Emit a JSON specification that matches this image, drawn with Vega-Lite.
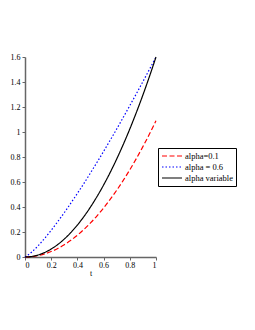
{
  "$schema": "https://vega.github.io/schema/vega-lite/v6.json",
  "autosize": "none",
  "width": 131,
  "height": 200,
  "padding": {"left": 25, "top": 57, "right": 99, "bottom": 73},
  "background": "white",
  "config": {
    "view": {"stroke": null},
    "font": "Liberation Serif",
    "axis": {
      "grid": false,
      "domainColor": "#666",
      "domainWidth": 1.5,
      "tickColor": "#666",
      "tickSize": 3,
      "labelFont": "Liberation Serif",
      "labelFontSize": 8,
      "labelColor": "black",
      "titleFont": "Liberation Serif",
      "titleFontSize": 8,
      "titleFontWeight": "normal",
      "titleColor": "black"
    }
  },
  "data": {
    "values": [
      {"t": 0, "y": 0, "s": "alpha=0.1"},
      {"t": 0.05, "y": 0.0027, "s": "alpha=0.1"},
      {"t": 0.1, "y": 0.0109, "s": "alpha=0.1"},
      {"t": 0.15, "y": 0.0245, "s": "alpha=0.1"},
      {"t": 0.2, "y": 0.0436, "s": "alpha=0.1"},
      {"t": 0.25, "y": 0.0681, "s": "alpha=0.1"},
      {"t": 0.3, "y": 0.0981, "s": "alpha=0.1"},
      {"t": 0.35, "y": 0.1335, "s": "alpha=0.1"},
      {"t": 0.4, "y": 0.1744, "s": "alpha=0.1"},
      {"t": 0.45, "y": 0.2207, "s": "alpha=0.1"},
      {"t": 0.5, "y": 0.2725, "s": "alpha=0.1"},
      {"t": 0.55, "y": 0.3297, "s": "alpha=0.1"},
      {"t": 0.6, "y": 0.3924, "s": "alpha=0.1"},
      {"t": 0.65, "y": 0.4605, "s": "alpha=0.1"},
      {"t": 0.7, "y": 0.5341, "s": "alpha=0.1"},
      {"t": 0.75, "y": 0.6131, "s": "alpha=0.1"},
      {"t": 0.8, "y": 0.6976, "s": "alpha=0.1"},
      {"t": 0.85, "y": 0.7875, "s": "alpha=0.1"},
      {"t": 0.9, "y": 0.8829, "s": "alpha=0.1"},
      {"t": 0.95, "y": 0.9837, "s": "alpha=0.1"},
      {"t": 1, "y": 1.09, "s": "alpha=0.1"},
      {"t": 0, "y": 0, "s": "alpha = 0.6"},
      {"t": 0.05, "y": 0.038, "s": "alpha = 0.6"},
      {"t": 0.1, "y": 0.09, "s": "alpha = 0.6"},
      {"t": 0.15, "y": 0.149, "s": "alpha = 0.6"},
      {"t": 0.2, "y": 0.214, "s": "alpha = 0.6"},
      {"t": 0.25, "y": 0.283, "s": "alpha = 0.6"},
      {"t": 0.3, "y": 0.355, "s": "alpha = 0.6"},
      {"t": 0.35, "y": 0.431, "s": "alpha = 0.6"},
      {"t": 0.4, "y": 0.509, "s": "alpha = 0.6"},
      {"t": 0.45, "y": 0.589, "s": "alpha = 0.6"},
      {"t": 0.5, "y": 0.673, "s": "alpha = 0.6"},
      {"t": 0.55, "y": 0.758, "s": "alpha = 0.6"},
      {"t": 0.6, "y": 0.845, "s": "alpha = 0.6"},
      {"t": 0.65, "y": 0.934, "s": "alpha = 0.6"},
      {"t": 0.7, "y": 1.024, "s": "alpha = 0.6"},
      {"t": 0.75, "y": 1.117, "s": "alpha = 0.6"},
      {"t": 0.8, "y": 1.211, "s": "alpha = 0.6"},
      {"t": 0.85, "y": 1.306, "s": "alpha = 0.6"},
      {"t": 0.9, "y": 1.403, "s": "alpha = 0.6"},
      {"t": 0.95, "y": 1.501, "s": "alpha = 0.6"},
      {"t": 1, "y": 1.6, "s": "alpha = 0.6"},
      {"t": 0, "y": 0, "s": "alpha variable"},
      {"t": 0.05, "y": 0.004, "s": "alpha variable"},
      {"t": 0.1, "y": 0.016, "s": "alpha variable"},
      {"t": 0.15, "y": 0.036, "s": "alpha variable"},
      {"t": 0.2, "y": 0.064, "s": "alpha variable"},
      {"t": 0.25, "y": 0.1, "s": "alpha variable"},
      {"t": 0.3, "y": 0.144, "s": "alpha variable"},
      {"t": 0.35, "y": 0.196, "s": "alpha variable"},
      {"t": 0.4, "y": 0.256, "s": "alpha variable"},
      {"t": 0.45, "y": 0.324, "s": "alpha variable"},
      {"t": 0.5, "y": 0.4, "s": "alpha variable"},
      {"t": 0.55, "y": 0.484, "s": "alpha variable"},
      {"t": 0.6, "y": 0.576, "s": "alpha variable"},
      {"t": 0.65, "y": 0.676, "s": "alpha variable"},
      {"t": 0.7, "y": 0.784, "s": "alpha variable"},
      {"t": 0.75, "y": 0.9, "s": "alpha variable"},
      {"t": 0.8, "y": 1.024, "s": "alpha variable"},
      {"t": 0.85, "y": 1.156, "s": "alpha variable"},
      {"t": 0.9, "y": 1.296, "s": "alpha variable"},
      {"t": 0.95, "y": 1.444, "s": "alpha variable"},
      {"t": 1, "y": 1.6, "s": "alpha variable"}
    ]
  },
  "mark": {"type": "line", "strokeWidth": 1.2, "interpolate": "monotone"},
  "encoding": {
    "x": {
      "field": "t", "type": "quantitative",
      "scale": {"domain": [0, 1], "nice": false},
      "axis": {"title": "t", "values": [0, 0.2, 0.4, 0.6, 0.8, 1], "format": "~g", "titlePadding": 0, "labelPadding": 1}
    },
    "y": {
      "field": "y", "type": "quantitative",
      "scale": {"domain": [0, 1.6], "nice": false},
      "axis": {"title": null, "values": [0, 0.2, 0.4, 0.6, 0.8, 1, 1.2, 1.4, 1.6], "format": "~g", "labelPadding": 2}
    },
    "color": {
      "field": "s", "type": "nominal",
      "sort": ["alpha=0.1", "alpha = 0.6", "alpha variable"],
      "scale": {"domain": ["alpha=0.1", "alpha = 0.6", "alpha variable"], "range": ["#ff0000", "#0000ff", "#000000"]},
      "legend": {
        "title": null,
        "orient": "none",
        "legendX": 133,
        "legendY": 91,
        "strokeColor": "black",
        "padding": 3,
        "symbolType": "M-1,0H4",
        "symbolSize": 64,
        "symbolStrokeWidth": 1.2,
        "labelFont": "Liberation Serif",
        "labelFontSize": 8.5,
        "labelColor": "black",
        "rowPadding": 1,
        "labelOffset": 14,
        "cornerRadius": 0
      }
    },
    "strokeDash": {
      "field": "s", "type": "nominal",
      "sort": ["alpha=0.1", "alpha = 0.6", "alpha variable"],
      "scale": {"domain": ["alpha=0.1", "alpha = 0.6", "alpha variable"], "range": [[5, 2.5], [1.5, 2], [1, 0]]},
      "legend": null
    }
  }
}
